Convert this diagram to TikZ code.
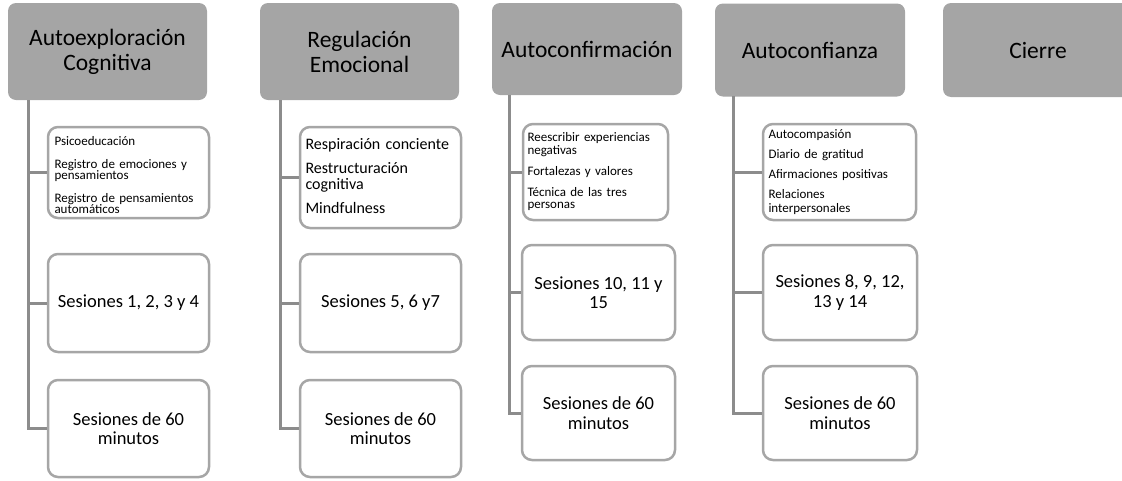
\documentclass[tikz,border=0pt]{standalone}
\usepackage{fontspec}
\setmainfont{Carlito}
\definecolor{hdgray}{HTML}{A5A5A5}
\definecolor{bxgray}{HTML}{A6A6A6}
\definecolor{lngray}{HTML}{8C8C8C}
\begin{document}
\begin{tikzpicture}[x=1pt,y=-1pt,
  head/.style={fill=hdgray, rounded corners=8pt, inner sep=0pt, align=center,
    font=\fontsize{23.5}{25}\selectfont},
  sub/.style={draw=bxgray, line width=2.5pt, fill=white, rounded corners=10pt, inner sep=0pt},
  sess/.style={sub, align=center, font=\fontsize{18.5}{19.5}\selectfont},
  conn/.style={draw=lngray, line width=3pt},
]
\clip (0,0) rectangle (1122,480);

% connector origins
\coordinate (v1) at (28,100);
\coordinate (v2) at (280,100);
\coordinate (v3) at (509,95);
\coordinate (v4) at (733,96);

% headers
\node[head, minimum width=199pt, minimum height=97pt] (h1) at (107.5,51.5) {Autoexploración\\Cognitiva};
\node[head, minimum width=199pt, minimum height=97pt] (h2) at (359.5,51.5) {Regulación\\Emocional};
\node[head, minimum width=190pt, minimum height=92pt] (h3) at (587,49) {Autoconfirmación};
\node[head, minimum width=190pt, minimum height=93pt] (h4) at (810,50) {Autoconfianza};
\node[head, minimum width=190pt, minimum height=94pt] (h5) at (1038,50) {Cierre};

% column 1
\node[sub, minimum width=161pt, minimum height=91pt, text width=148pt, align=left,
  text height=18.7pt, text depth=72.3pt,
  font=\fontsize{13}{11.5}\selectfont] (c11) at (128.5,172.5)
  {Psicoeducación\\[11pt]Registro de emociones y\\pensamientos\\[11pt]Registro de pensamientos\\automáticos};
\node[sess, minimum width=161pt, minimum height=98pt] (c12) at (128.5,303) {Sesiones 1, 2, 3 y 4};
\node[sess, minimum width=161pt, minimum height=97pt] (c13) at (128.5,428.5) {Sesiones de 60\\minutos};

% column 2
\node[sub, minimum width=161pt, minimum height=101pt, text width=150pt, align=left,
  text height=22pt, text depth=79pt,
  font=\fontsize{16}{16}\selectfont] (c21) at (380.5,177.5)
  {Respiración conciente\\[8pt]Restructuración\\cognitiva\\[8pt]Mindfulness};
\node[sess, minimum width=161pt, minimum height=98pt] (c22) at (380.5,303) {Sesiones 5, 6 y7};
\node[sess, minimum width=161pt, minimum height=97pt] (c23) at (380.5,428.5) {Sesiones de 60\\minutos};

% column 3
\node[sub, minimum width=145pt, minimum height=96pt, text width=136pt, align=left,
  text height=17.7pt, text depth=78.3pt,
  font=\fontsize{13}{12.5}\selectfont] (c31) at (595.5,172)
  {Reescribir experiencias\\negativas\\[8.5pt]Fortalezas y valores\\[8.5pt]Técnica de las tres\\personas};
\node[sess, minimum width=153pt, minimum height=95pt] (c32) at (598.5,292.5) {Sesiones 10, 11 y\\15};
\node[sess, minimum width=153pt, minimum height=94pt] (c33) at (598.5,413) {Sesiones de 60\\minutos};

% column 4
\node[sub, minimum width=153pt, minimum height=96pt, text width=142pt, align=left,
  text height=14pt, text depth=82pt,
  font=\fontsize{13}{14}\selectfont] (c41) at (839.5,172)
  {Autocompasión\\[6pt]Diario de gratitud\\[6pt]Afirmaciones positivas\\[6pt]Relaciones\\interpersonales};
\node[sess, minimum width=154pt, minimum height=95pt] (c42) at (840,292.5) {Sesiones 8, 9, 12,\\13 y 14};
\node[sess, minimum width=154pt, minimum height=94pt] (c43) at (840,413) {Sesiones de 60\\minutos};

% connectors
\foreach \v/\a/\b/\c in {v1/c11/c12/c13, v2/c21/c22/c23, v3/c31/c32/c33, v4/c41/c42/c43}{
  \draw[conn] (\v) |- (\c.west);
  \draw[conn] (\v |- \a.west) -- (\a.west);
  \draw[conn] (\v |- \b.west) -- (\b.west);
}
\end{tikzpicture}
\end{document}
